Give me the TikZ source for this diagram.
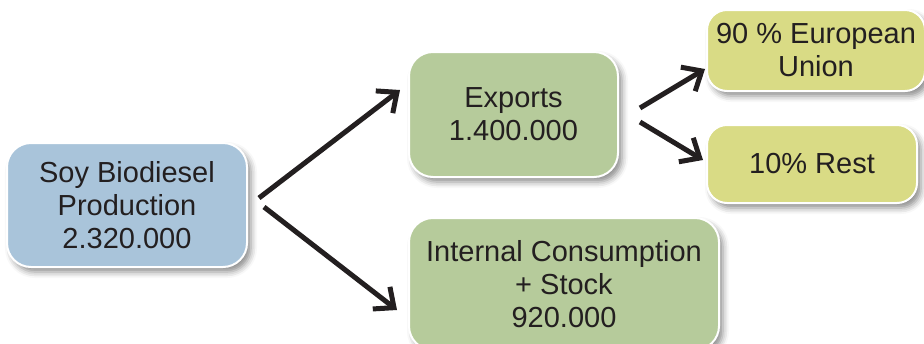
\documentclass[tikz,border=0pt]{standalone}
\usepackage{fontspec}
\setmainfont{Liberation Sans}
\usepackage{tikz}
\usetikzlibrary{arrows.meta,shadows.blur}
\definecolor{soyblue}{RGB}{169,196,218}
\definecolor{expgreen}{RGB}{182,203,155}
\definecolor{destyellow}{RGB}{217,219,133}
\definecolor{inktext}{RGB}{35,31,32}

\tikzset{
  box/.style={draw=white, line width=2pt, rounded corners=24pt, inner sep=0pt,
    align=center, text=inktext, font=\fontsize{29}{33}\selectfont,
    blur shadow={shadow xshift=4pt, shadow yshift=-5pt,
      shadow blur radius=6pt, shadow opacity=45}},
  soybox/.style={box, fill=soyblue},
  greenbox/.style={box, fill=expgreen},
  destbox/.style={box, fill=destyellow, rounded corners=20pt},
  flow/.style={line width=5pt, draw=inktext,
    -{Straight Barb[length=16pt,width=28pt]}}
}

\begin{document}
\begin{tikzpicture}[
  grow'=right,
  level 1/.style={level distance=281pt, sibling distance=169.5pt},
  level 2/.style={level distance=192.5pt, sibling distance=113.5pt},
  edge from parent/.style={draw=none},
  every child node/.style={anchor=west}]
  \useasboundingbox (0,0) rectangle (924pt,-343pt);
  \node[soybox, minimum width=240pt, minimum height=124pt] (soy) at (127pt,-205pt)
      {Soy Biodiesel\\Production\\2.320.000}
    child[yshift=5.75pt] { node[greenbox, minimum width=209pt, minimum height=125pt] (exp)
        {Exports\\1.400.000}
      child[yshift=7.25pt] { node[destbox, minimum width=218pt, minimum height=81pt] (eu)
          {90 \% European\\Union} }
      child[yshift=7.25pt] { node[destbox, minimum width=210pt, minimum height=78pt] (rest)
          {10\% Rest} }
    }
    child[yshift=5.75pt] { node[greenbox, minimum width=310pt, minimum height=132pt] (intl)
        {Internal Consumption\\+ Stock\\920.000} };

  % flows
  \draw[flow] ([xshift=11pt,yshift=7pt]soy.east) -- ([xshift=-8pt,yshift=24.5pt]exp.west);
  \draw[flow] ([xshift=16pt,yshift=-2pt]soy.east) -- ([xshift=-11pt,yshift=-26pt]intl.west);
  \draw[flow] ([xshift=21pt,yshift=6.5pt]exp.east) -- ([xshift=-1pt,yshift=-18.5pt]eu.west);
  \draw[flow] ([xshift=21pt,yshift=-7.5pt]exp.east) -- ([xshift=-3pt,yshift=4pt]rest.west);
\end{tikzpicture}
\end{document}
